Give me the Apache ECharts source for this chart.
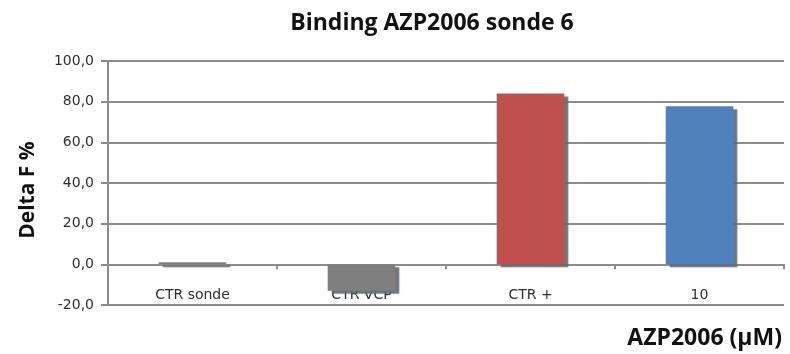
<!DOCTYPE html>
<html>
<head>
<meta charset="utf-8">
<script src="https://cdn.jsdelivr.net/npm/echarts@6/dist/echarts.min.js"></script>
<style>
  html, body { margin: 0; padding: 0; background: #ffffff; }
  #chart { width: 790px; height: 354px; }
</style>
</head>
<body>
<div id="chart"></div>
<script>
// Binding of AZP2006 with probe 6: fluorescence change per condition
const categories = ['CTR sonde', 'CTR VCP', 'CTR +', '10'];
const deltaF = [1.0, -13.0, 84.0, 77.7];
const barColors = ['#7f7f7f', '#7f7f7f', '#c0504d', '#4f81bd'];
const yTicks = [-20, 0, 20, 40, 60, 80, 100];

const chart = echarts.init(document.getElementById('chart'), null, { renderer: 'canvas' });

const axisGray = '#8c8c8c';
const labelColor = '#2e2e2e';
const headFont = { fontFamily: 'Open Sans', fontWeight: 'bold', fontSize: 23, color: '#111111' };

chart.setOption({
  animation: false,
  backgroundColor: '#ffffff',
  title: [
    {
      text: 'Binding AZP2006 sonde 6',
      left: 427, top: 7, textAlign: 'center',
      textStyle: headFont
    },
    {
      text: 'AZP2006 (µM)',
      right: 3, top: 322,
      textStyle: headFont
    }
  ],
  grid: { left: 108, right: 6, top: 61, bottom: 49, containLabel: false },
  xAxis: {
    type: 'category',
    data: categories,
    axisLine: { onZero: true, lineStyle: { color: axisGray, width: 2 } },
    axisTick: { show: true, length: 5, lineStyle: { color: axisGray, width: 2 } },
    axisLabel: {
      margin: -17,
      fontFamily: 'DejaVu Sans',
      fontSize: 14,
      color: labelColor
    }
  },
  yAxis: {
    type: 'value',
    min: yTicks[0],
    max: yTicks[yTicks.length - 1],
    interval: 20,
    name: 'Delta F %',
    nameLocation: 'middle',
    nameRotate: 90,
    nameGap: 69,
    nameTextStyle: Object.assign({}, headFont, { fontSize: 21, padding: [0, 14, 0, 0] }),
    axisLine: { show: true, lineStyle: { color: axisGray, width: 2 } },
    axisTick: { show: true, length: 7, lineStyle: { color: axisGray, width: 2 } },
    splitLine: { show: true, lineStyle: { color: axisGray, width: 2 } },
    axisLabel: {
      margin: 14,
      fontFamily: 'DejaVu Sans',
      fontSize: 14,
      color: labelColor,
      formatter: v => v.toFixed(1).replace('.', ',')
    }
  },
  series: [{
    type: 'bar',
    barWidth: '40%',
    data: deltaF.map((v, i) => ({
      value: v,
      itemStyle: { color: barColors[i] }
    })),
    itemStyle: {
      shadowColor: 'rgba(95,105,110,0.9)',
      shadowBlur: 1,
      shadowOffsetX: 4,
      shadowOffsetY: 3
    }
  }]
});
</script>
</body>
</html>
